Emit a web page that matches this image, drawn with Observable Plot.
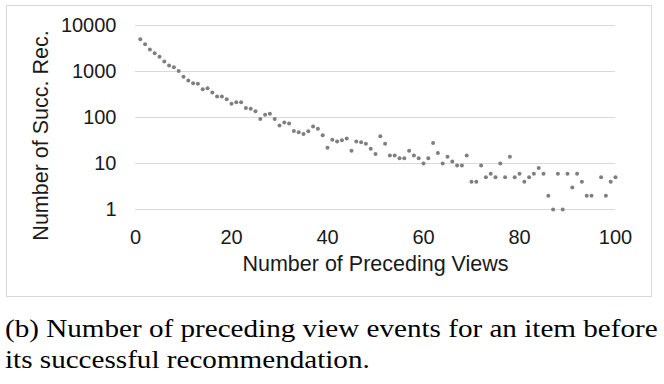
<!DOCTYPE html>
<html>
<head>
<meta charset="utf-8">
<script src="https://cdn.jsdelivr.net/npm/d3@7"></script>
<script src="https://cdn.jsdelivr.net/npm/@observablehq/plot@0.6"></script>
<style>
  html, body { margin: 0; padding: 0; background: #fff; }
  #wrap { position: relative; width: 664px; height: 384px; overflow: hidden; }
  #box { position: absolute; left: 6px; top: 5px; width: 644px; height: 290px; border: 1px solid #d9d9d9; }
  #chart { position: absolute; left: 0; top: 0; }
  #caption { position: absolute; left: 5px; top: 313px; font-family: "Liberation Serif", "DejaVu Serif", serif; font-size: 25px; line-height: 31px; color: #000; white-space: nowrap; transform: scaleX(1.165); transform-origin: 0 0; }
</style>
</head>
<body>
<div id="wrap">
  <div id="box"></div>
  <div id="chart"></div>
  <div id="caption">(b) Number of preceding view events for an item before<br>its successful recommendation.</div>
</div>
<script>
const views = [1,2,3,4,5,6,7,8,9,10,11,12,13,14,15,16,17,18,19,20,21,22,23,24,25,26,27,28,29,30,31,32,33,34,35,36,37,38,39,40,41,42,43,44,45,46,47,48,49,50,51,52,53,54,55,56,57,58,59,60,61,62,63,64,65,66,67,68,69,70,71,72,73,74,75,76,77,78,79,80,81,82,83,84,85,86,87,88,89,90,91,92,93,94,95,97,98,99,100];
const counts = [5000,3900,3000,2500,2100,1650,1350,1230,1030,770,640,555,540,410,435,350,285,285,250,200,215,215,160,155,137,93,115,120,93,67,78,74,51,48,44,50,64,57,41,22,33,30,32,35,19,30,29,27,21,16,39,27,15,15,13,13,19,15,13,10,13,28,17,10,14,11,9,9,15,4,4,9,5,6,5,10,5,14,5,6,4,5,6,8,6,2,1,6,1,6,3,6,4,2,2,5,2,4,5];
const xTicks = [0,20,40,60,80,100];
const yTicks = [1,10,100,1000,10000];
const xLabel = "Number of Preceding Views";
const yLabel = "Number of Succ. Rec.";

const data = views.map((v, i) => ({views: v, count: counts[i]}));

const chart = Plot.plot({
  width: 664,
  height: 300,
  marginLeft: 135,
  marginRight: 49,
  marginTop: 25,
  marginBottom: 91,
  style: {fontFamily: "'Liberation Sans', Arial, sans-serif", fontSize: "20px", color: "#1a1a1a", background: "transparent", overflow: "visible"},
  x: {domain: [0, 100]},
  y: {type: "log", domain: [1, 10000]},
  marks: [
    Plot.gridY(yTicks, {stroke: "#d9d9d9", strokeOpacity: 1}),
    Plot.axisY(yTicks, {tickSize: 0, tickPadding: 19, tickFormat: d => String(d), label: null, fontSize: 20}),
    Plot.axisX(xTicks, {tickSize: 0, tickPadding: 20, tickFormat: d => String(d), label: null, fontSize: 20}),
    Plot.text([yLabel], {text: d => d, frameAnchor: "left", textAnchor: "middle", lineAnchor: "middle", rotate: -90, dx: -94, dy: 18, fontSize: 21.5, fill: "#1a1a1a"}),
    Plot.text([xLabel], {text: d => d, frameAnchor: "bottom", textAnchor: "middle", lineAnchor: "bottom", dy: 61, fontSize: 21.5, fill: "#1a1a1a"}),
    Plot.dot(data, {x: "views", y: "count", r: 2, fill: "#7f7f7f", stroke: "none"})
  ]
});
document.getElementById("chart").appendChild(chart);
</script>
</body>
</html>
